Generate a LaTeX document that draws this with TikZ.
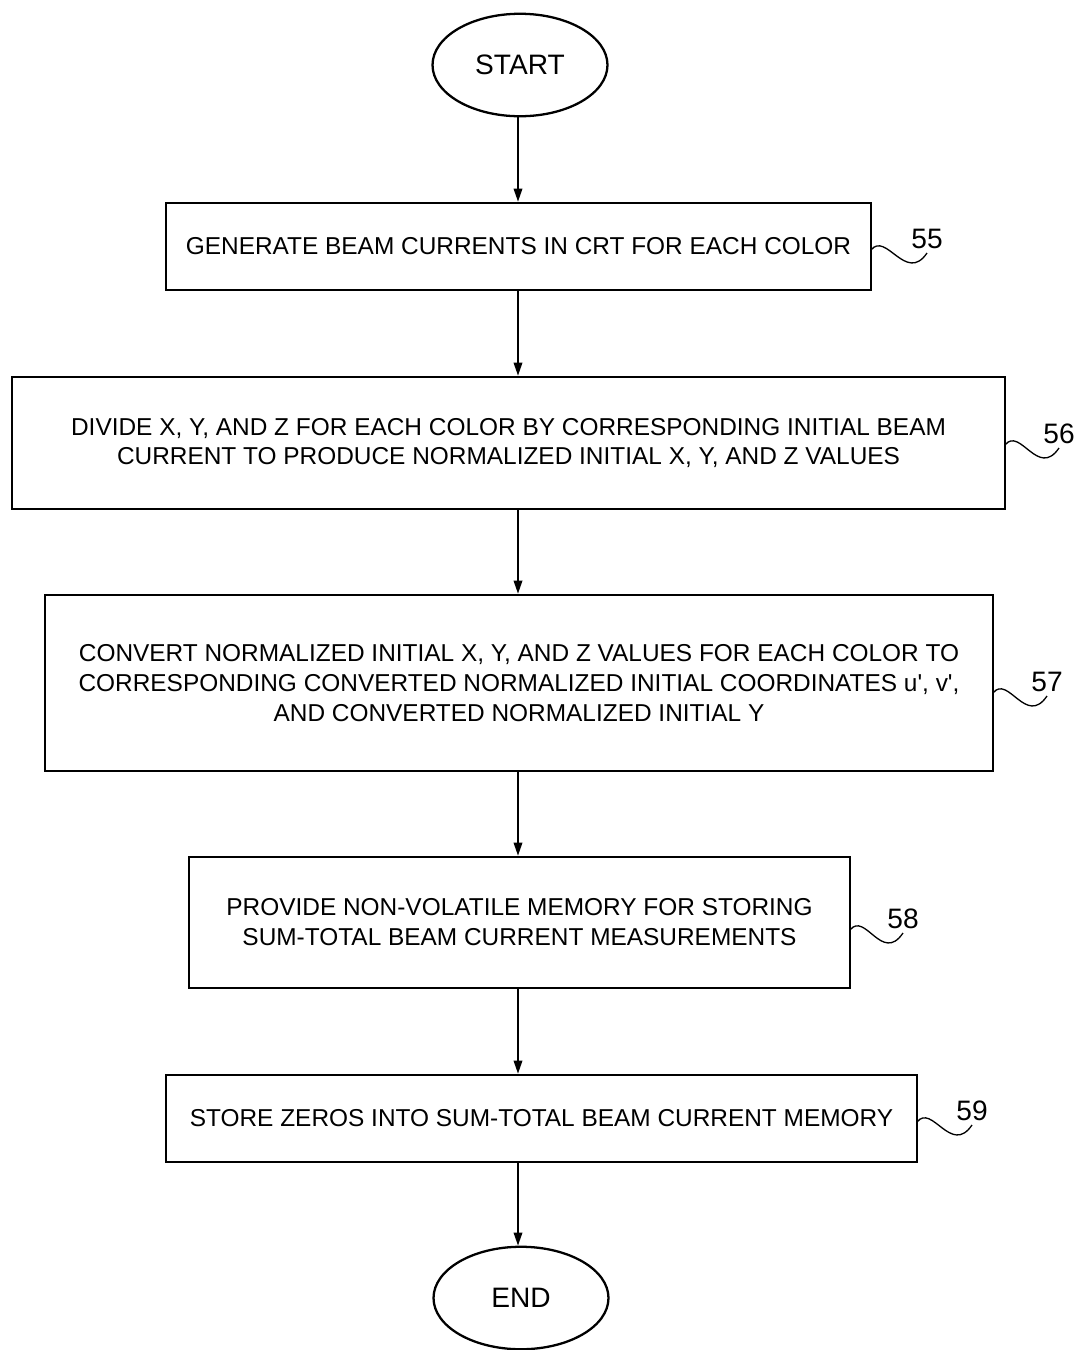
\documentclass[tikz,border=0pt]{standalone}
\usepackage{fontspec}
\setmainfont{Liberation Sans}
\usetikzlibrary{shapes.geometric,arrows.meta}
\newcommand{\stepgen}{GENERATE BEAM CURRENTS IN CRT FOR EACH COLOR}
\newcommand{\stepdiv}{DIVIDE X, Y, AND Z FOR EACH COLOR BY CORRESPONDING INITIAL BEAM\\
  CURRENT TO PRODUCE NORMALIZED INITIAL X, Y, AND Z VALUES}
\newcommand{\stepconv}{CONVERT NORMALIZED INITIAL X, Y, AND Z VALUES FOR EACH COLOR TO\\
  CORRESPONDING CONVERTED NORMALIZED INITIAL COORDINATES u\textquotesingle, v\textquotesingle,\\
  AND CONVERTED NORMALIZED INITIAL Y}
\newcommand{\stepmem}{PROVIDE NON-VOLATILE MEMORY FOR STORING\\
  SUM-TOTAL BEAM CURRENT MEASUREMENTS}
\newcommand{\stepzero}{STORE ZEROS INTO SUM-TOTAL BEAM CURRENT MEMORY}

\tikzset{
  stepbox/.style={draw, line width=1.5pt, align=center, inner sep=0pt,
    font=\fontsize{13.9}{17}\selectfont},
  term/.style={draw, ellipse, line width=1.3pt, inner sep=0pt,
    minimum width=3.5cm, minimum height=2.05cm, font=\fontsize{16}{18}\selectfont},
  flow/.style={line width=1pt, -{Triangle[length=0.26cm,width=0.17cm]}},
  lead/.style={line width=0.75pt},
  num/.style={anchor=south, inner sep=0pt, yshift=0.08cm, font=\fontsize{16}{18}\selectfont}
}

\begin{document}
\begin{tikzpicture}[x=0.02cm, y=-0.02cm]
    \useasboundingbox (0,0) rectangle (1079,1350);
    \coordinate (axis) at (518,0);
    \coordinate (m55) at (871,250);
    \coordinate (m56) at (1005,445);
    \coordinate (m57) at (993,693);
    \coordinate (m58) at (850,930);
    \coordinate (m59) at (917,1122);

    \node[term] (start) at (520,65) {START};
    \node[stepbox, minimum width=14.1cm, minimum height=1.74cm] (b55) at (518.5,246.5) {\stepgen};
    \node[stepbox, minimum width=19.86cm, minimum height=2.64cm] (b56) at (508.5,443) {\stepdiv};
    \node[stepbox, minimum width=18.96cm, minimum height=3.52cm] (b57) at (519,683) {\stepconv};
    \node[stepbox, minimum width=13.22cm, minimum height=2.62cm] (b58) at (519.5,922.5) {\stepmem};
    \node[stepbox, minimum width=15.02cm, minimum height=1.74cm] (b59) at (541.5,1118.5) {\stepzero};
    \node[term] (end) at (521,1298) {END};

    \draw[flow] (axis |- start.south) -- (axis |- b55.north);
    \draw[flow] (axis |- b55.south) -- (axis |- b56.north);
    \draw[flow] (axis |- b56.south) -- (axis |- b57.north);
    \draw[flow] (axis |- b57.south) -- (axis |- b58.north);
    \draw[flow] (axis |- b58.south) -- (axis |- b59.north);
    \draw[flow] (axis |- b59.south) -- (axis |- end.north);

    % reference numerals
    \draw[lead] (m55) .. controls +(15,-19) and +(-21,31) .. ++(56,3) node[num] (l55) {55};
    \draw[lead] (m56) .. controls +(15,-19) and +(-21,31) .. ++(54,3) node[num] (l56) {56};
    \draw[lead] (m57) .. controls +(15,-19) and +(-21,31) .. ++(54,3) node[num] (l57) {57};
    \draw[lead] (m58) .. controls +(15,-19) and +(-21,31) .. ++(53,3) node[num] (l58) {58};
    \draw[lead] (m59) .. controls +(15,-19) and +(-21,31) .. ++(55,3) node[num] (l59) {59};
\end{tikzpicture}
\end{document}
